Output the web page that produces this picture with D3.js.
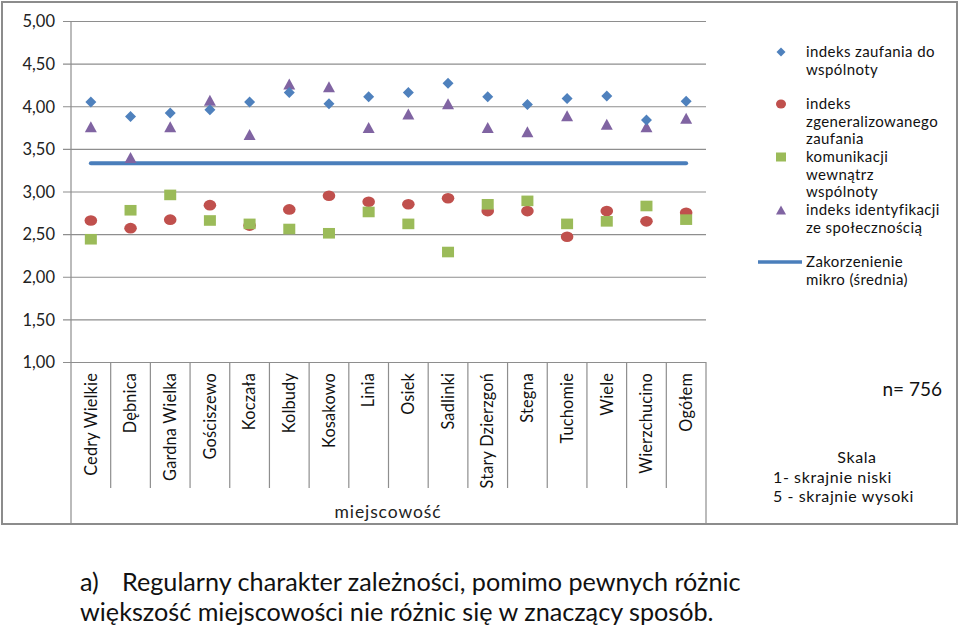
<!DOCTYPE html>
<html>
<head>
<meta charset="utf-8">
<script src="https://cdn.jsdelivr.net/npm/d3@7"></script>
<style>
html,body{margin:0;padding:0;background:#fff;}
svg text{font-family:Lato,"Open Sans",sans-serif;}
</style>
</head>
<body>
<svg id="chart" width="960" height="635"></svg>
<script>
const categories = ["Cedry Wielkie","Dębnica","Gardna Wielka","Gościszewo","Koczała","Kolbudy","Kosakowo","Linia","Osiek","Sadlinki","Stary Dzierzgoń","Stegna","Tuchomie","Wiele","Wierzchucino","Ogółem"];
const zaufanieWspolnoty = [4.05,3.88,3.92,3.96,4.05,4.16,4.03,4.11,4.16,4.27,4.11,4.02,4.09,4.12,3.84,4.06];
const zaufanieZgeneralizowane = [2.66,2.57,2.67,2.84,2.60,2.79,2.95,2.88,2.85,2.92,2.77,2.77,2.47,2.77,2.65,2.75];
const komunikacja = [2.44,2.78,2.96,2.66,2.62,2.56,2.51,2.76,2.62,2.29,2.85,2.89,2.62,2.65,2.83,2.67];
const identyfikacja = [3.76,3.40,3.76,4.07,3.67,4.26,4.23,3.75,3.91,4.03,3.75,3.70,3.89,3.79,3.76,3.86];
const zakorzenienie = [3.33,3.33,3.33,3.33,3.33,3.33,3.33,3.33,3.33,3.33,3.33,3.33,3.33,3.33,3.33,3.33];
const yTicks = [1.0,1.5,2.0,2.5,3.0,3.5,4.0,4.5,5.0];
const legendLabels = [
  ["indeks zaufania do","wspólnoty"],
  ["indeks","zgeneralizowanego","zaufania"],
  ["komunikacji","wewnątrz","wspólnoty"],
  ["indeks identyfikacji","ze społecznością"],
  ["Zakorzenienie","mikro (średnia)"]
];
const colors = {blue:"#4f81bd", red:"#c0504d", green:"#9bbb59", purple:"#8064a2", line:"#4a7ebb"};

const svg = d3.select("#chart");
const x = d3.scaleBand().domain(categories).range([71,706]).padding(0);
const y = d3.scaleLinear().domain([1,5]).range([362,21]);
const cx = d => x(d) + x.bandwidth()/2;

// frame
svg.append("rect").attr("x",2).attr("y",2).attr("width",955).attr("height",522)
  .attr("fill","#fff").attr("stroke","#8c8c8c").attr("stroke-width",2);

// gridlines + y axis
const yAxis = d3.axisLeft(y).tickValues(yTicks).tickSize(706-63).tickPadding(0)
  .tickFormat(d => d3.format(".2f")(d).replace(".",","));
const gy = svg.append("g").attr("transform","translate(706,0)").call(yAxis);
gy.select(".domain").remove();
gy.selectAll(".tick line").attr("stroke","#8e8e8e").attr("stroke-width",1.2);
gy.selectAll(".tick text").attr("x",-(706-55)).attr("text-anchor","end")
  .attr("font-size",16.5).attr("fill","#222").attr("dy","0.35em");

// left axis line
svg.append("line").attr("x1",71).attr("x2",71).attr("y1",21).attr("y2",524)
  .attr("stroke","#8e8e8e").attr("stroke-width",1.2);

// category separators
const bounds = categories.map(c => x(c)).slice(1);
svg.selectAll("line.sep").data(bounds).enter().append("line").attr("class","sep")
  .attr("x1",d=>d).attr("x2",d=>d).attr("y1",362).attr("y2",488)
  .attr("stroke","#8e8e8e").attr("stroke-width",1.2);
svg.append("line").attr("x1",706).attr("x2",706).attr("y1",362).attr("y2",524)
  .attr("stroke","#8e8e8e").attr("stroke-width",1.2);

// category labels
svg.selectAll("text.cat").data(categories).enter().append("text").attr("class","cat")
  .attr("transform",d=>`translate(${cx(d)},373) rotate(-90)`)
  .attr("text-anchor","end").attr("dy","0.35em")
  .attr("font-size",16.3).attr("letter-spacing",0.2).attr("fill","#111").text(d=>d);

svg.append("text").attr("x",388).attr("y",512).attr("dy","0.35em").attr("text-anchor","middle")
  .attr("font-size",17.5).attr("letter-spacing",0.9).attr("fill","#222").text("miejscowość");

// line series
const line = d3.line().x((d,i)=>cx(categories[i])).y(d=>y(d));
svg.append("path").datum(zakorzenienie).attr("d",line).attr("fill","none")
  .attr("stroke",colors.line).attr("stroke-width",4).attr("stroke-linecap","round");

// markers
const triPath = (w,h) => `M0,${-h/2}L${w/2},${h/2}L${-w/2},${h/2}Z`;
const diaPath = (w,h) => `M0,${-h/2}L${w/2},0L0,${h/2}L${-w/2},0Z`;

svg.selectAll("path.tri").data(identyfikacja).enter().append("path").attr("class","tri")
  .attr("transform",(d,i)=>`translate(${cx(categories[i])},${y(d)})`)
  .attr("d",triPath(12,11)).attr("fill",colors.purple);
svg.selectAll("ellipse.circ").data(zaufanieZgeneralizowane).enter().append("ellipse").attr("class","circ")
  .attr("cx",(d,i)=>cx(categories[i])).attr("cy",d=>y(d)).attr("rx",6.3).attr("ry",5.3)
  .attr("fill",colors.red);
svg.selectAll("rect.sq").data(komunikacja).enter().append("rect").attr("class","sq")
  .attr("x",(d,i)=>cx(categories[i])-6).attr("y",d=>y(d)-5.3).attr("width",12).attr("height",10.6)
  .attr("fill",colors.green);
svg.selectAll("path.dia").data(zaufanieWspolnoty).enter().append("path").attr("class","dia")
  .attr("transform",(d,i)=>`translate(${cx(categories[i])},${y(d)})`)
  .attr("d",diaPath(11,11)).attr("fill",colors.blue);

// legend
const lg = svg.append("g");
const lh = 17.6;
const legendY = [52,104,157,210,262];
const fs = 15;
lg.append("path").attr("transform",`translate(781,${legendY[0]})`).attr("d",diaPath(9,9)).attr("fill",colors.blue);
lg.append("ellipse").attr("cx",781).attr("cy",legendY[1]).attr("rx",5).attr("ry",4.5).attr("fill",colors.red);
lg.append("rect").attr("x",776).attr("y",legendY[2]-4.5).attr("width",10).attr("height",9).attr("fill",colors.green);
lg.append("path").attr("transform",`translate(781,${legendY[3]})`).attr("d",triPath(10,9)).attr("fill",colors.purple);
lg.append("line").attr("x1",758).attr("x2",802).attr("y1",legendY[4]).attr("y2",legendY[4])
  .attr("stroke",colors.line).attr("stroke-width",3.5);
legendLabels.forEach((lines,k)=>{
  const t = lg.append("text").attr("x",806).attr("y",legendY[k]).attr("dy","0.35em")
    .attr("font-size",fs).attr("letter-spacing",0.4).attr("fill","#111");
  lines.forEach((s,j)=>{
    t.append("tspan").attr("x",806).attr("y",legendY[k]+j*lh).attr("dy","0.35em").text(s);
  });
});

// annotations
svg.append("text").attr("x",942).attr("y",389).attr("dy","0.35em").attr("text-anchor","end")
  .attr("font-size",19).attr("fill","#111").text("n= 756");
svg.append("text").attr("x",857).attr("y",457).attr("dy","0.35em").attr("text-anchor","middle")
  .attr("font-size",16).attr("letter-spacing",0.6).attr("fill","#111").text("Skala");
svg.append("text").attr("x",773).attr("y",477).attr("dy","0.35em")
  .attr("font-size",16).attr("letter-spacing",0.6).attr("fill","#111").text("1- skrajnie niski");
svg.append("text").attr("x",773).attr("y",496).attr("dy","0.35em")
  .attr("font-size",16).attr("letter-spacing",0.6).attr("fill","#111").text("5 - skrajnie wysoki");

// caption
svg.append("text").attr("x",80).attr("y",591).attr("font-size",25.2).attr("fill","#111").text("a)");
svg.append("text").attr("x",122).attr("y",591).attr("font-size",25.2).attr("fill","#111")
  .text("Regularny charakter zależności, pomimo pewnych różnic");
svg.append("text").attr("x",80).attr("y",621).attr("font-size",25.2).attr("fill","#111")
  .text("większość miejscowości nie różnic się w znaczący sposób.");
</script>
</body>
</html>
